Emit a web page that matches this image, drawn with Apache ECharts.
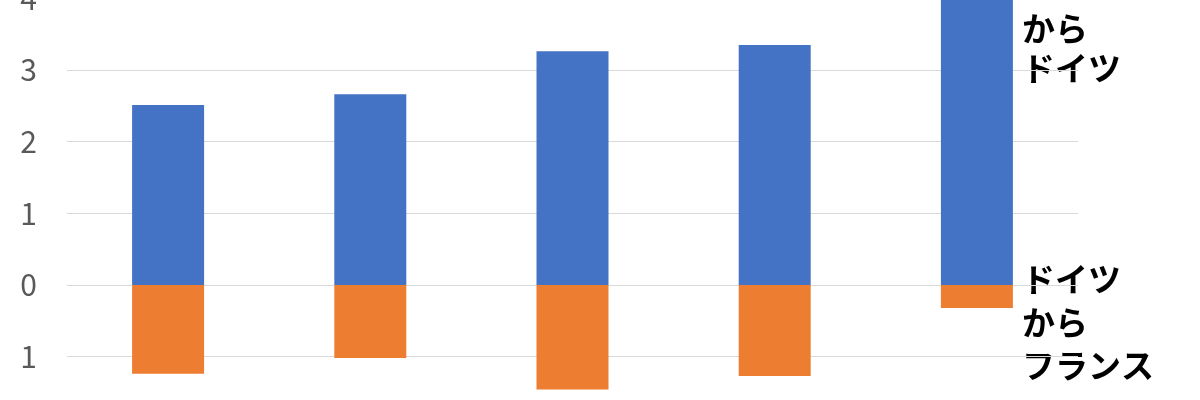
<!DOCTYPE html>
<html><head><meta charset="utf-8">
<script src="https://cdn.jsdelivr.net/npm/echarts@6/dist/echarts.min.js"></script>
<style>html,body{margin:0;padding:0;background:#fff}#c{width:1200px;height:400px}</style>
</head><body><div id="c"></div>
<script>
const categories = ['1', '2', '3', '4', '5'];
const toGermany = [2.51, 2.66, 3.26, 3.35, 4.4];
const toFrance = [-1.24, -1.02, -1.46, -1.27, -0.32];
const yTicks = [-2, -1, 0, 1, 2, 3, 4];
const labelToGermany = 'から\nドイツ';
const labelToFrance = 'ドイツ\nから\nフランス';

const chart = echarts.init(document.getElementById('c'));
chart.setOption({
  animation: false,
  grid: { left: 67, width: 1011, top: -1.7, height: 430, containLabel: false, outerBoundsMode: 'none' },
  xAxis: {
    type: 'category', data: categories,
    axisLine: { show: false }, axisTick: { show: false }, axisLabel: { show: false }
  },
  yAxis: {
    type: 'value', min: yTicks[0], max: yTicks[yTicks.length - 1], interval: 1,
    axisLine: { show: false }, axisTick: { show: false },
    splitLine: { lineStyle: { color: '#d9d9d9', width: 1 } },
    axisLabel: {
      margin: 30, fontSize: 30, color: '#595959',
      fontFamily: 'Noto Sans CJK JP',
      formatter: v => String(Math.abs(v))
    }
  },
  series: [
    { name: labelToGermany, type: 'bar', stack: 's', data: toGermany, barWidth: 72,
      itemStyle: { color: '#4472C4' } },
    { name: labelToFrance, type: 'bar', stack: 's', data: toFrance, barWidth: 72,
      itemStyle: { color: '#ED7D31' } }
  ],
  graphic: [
    { type: 'text', left: 1022, top: 8, style: { text: labelToGermany, fontSize: 33, fontWeight: 'bold', lineHeight: 40, fill: '#000', fontFamily: 'Noto Sans CJK JP' } },
    { type: 'text', left: 1022, top: 258, style: { text: labelToFrance, fontSize: 33, fontWeight: 'bold', lineHeight: 43, fill: '#000', fontFamily: 'Noto Sans CJK JP' } }
  ]
});
</script></body></html>
